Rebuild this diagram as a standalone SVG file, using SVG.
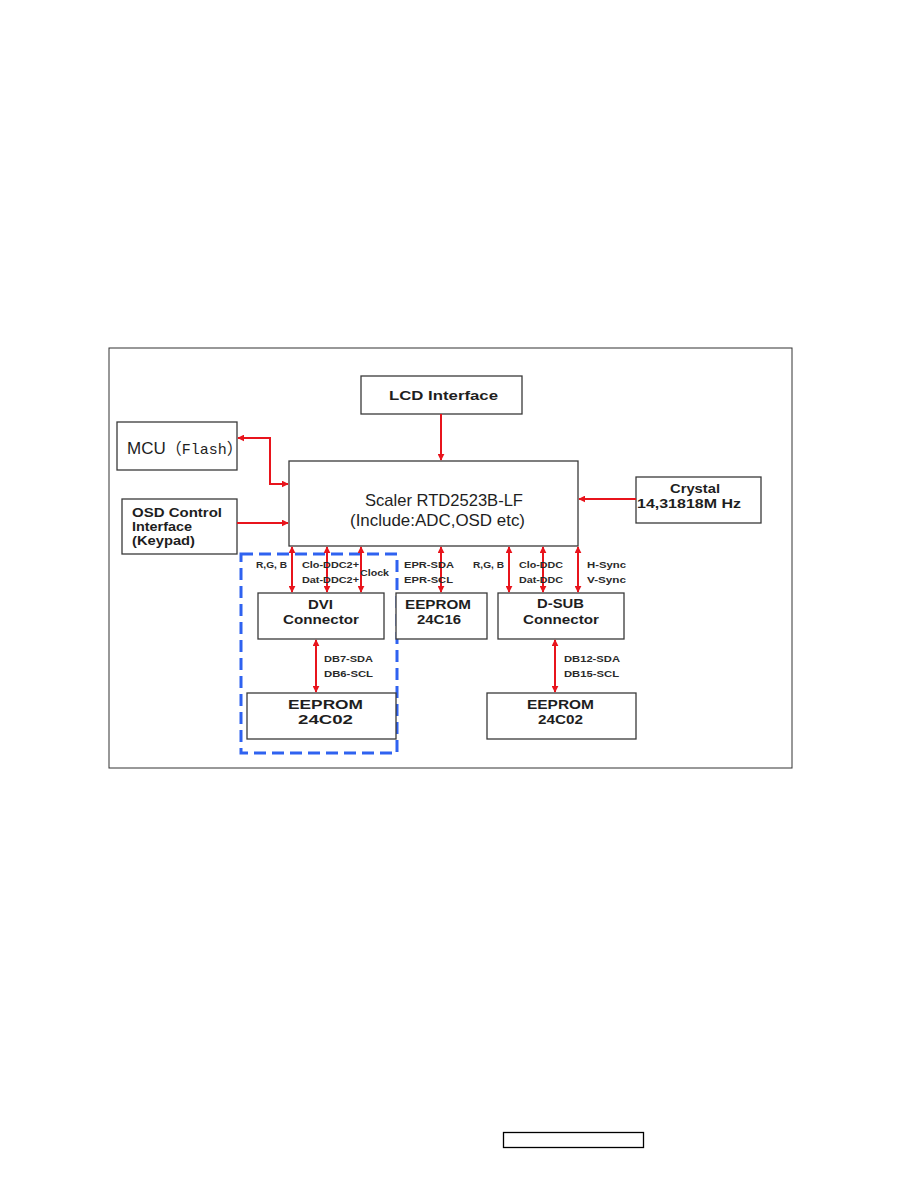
<svg xmlns="http://www.w3.org/2000/svg" width="918" height="1188" viewBox="0 0 918 1188">
<defs>
<marker id="ah" viewBox="0 0 10 10" refX="9" refY="5" markerWidth="7" markerHeight="7" markerUnits="userSpaceOnUse" orient="auto-start-reverse">
<path d="M0,0 L10,5 L0,10 z" fill="#e8141c"/>
</marker>
<style>
.box{fill:#fff;stroke:#3a3a3a;stroke-width:1.3}
.t{font-family:"Liberation Sans",Arial,sans-serif;font-weight:bold;fill:#1e1e1e;font-size:13px}
.s{font-family:"Liberation Sans",Arial,sans-serif;font-weight:bold;fill:#2a2a2a;font-size:9.5px}
.d{stroke:#e8141c;stroke-width:2;fill:none;marker-start:url(#ah);marker-end:url(#ah)}
.e{stroke:#e8141c;stroke-width:2;fill:none;marker-end:url(#ah)}
</style>
</defs>
<rect width="918" height="1188" fill="#fff"/>
<rect x="109" y="348" width="683" height="420" fill="#fff" stroke="#333" stroke-width="1"/>

<g id="dvi-group">
<rect x="241" y="554" width="156" height="199" fill="none" stroke="#2f62f0" stroke-width="3" stroke-dasharray="12,6"/>
</g>

<g id="lcd">
<rect class="box" x="361" y="376" width="161" height="38"/>
<text class="t" x="389" y="400" font-size="12" textLength="109" lengthAdjust="spacingAndGlyphs">LCD Interface</text>
</g>
<g id="mcu">
<rect class="box" x="117" y="422" width="120" height="48"/>
<text x="127" y="454" font-family="Liberation Sans,Arial,sans-serif" font-size="17" fill="#1e1e1e">MCU<tspan font-family="Noto Sans CJK SC,sans-serif" font-size="16">（</tspan><tspan font-family="Liberation Mono,Liberation Serif,serif" font-size="15">Flash</tspan><tspan font-family="Noto Sans CJK SC,sans-serif" font-size="16">）</tspan></text>
</g>
<g id="osd">
<rect class="box" x="122" y="499" width="115" height="55"/>
<text class="t" x="132" y="517" font-size="12.5" textLength="90" lengthAdjust="spacingAndGlyphs">OSD Control</text>
<text class="t" x="132" y="531" font-size="12.5" textLength="60" lengthAdjust="spacingAndGlyphs">Interface</text>
<text class="t" x="132" y="545" font-size="12.5" textLength="63" lengthAdjust="spacingAndGlyphs">(Keypad)</text>
</g>
<g id="scaler">
<rect class="box" x="289" y="461" width="289" height="85"/>
<text x="365" y="506" font-family="Liberation Sans,Arial,sans-serif" font-size="16.5" fill="#1e1e1e" textLength="158" lengthAdjust="spacingAndGlyphs">Scaler RTD2523B-LF</text>
<text x="350" y="526" font-family="Liberation Sans,Arial,sans-serif" font-size="16.5" fill="#1e1e1e" textLength="175" lengthAdjust="spacingAndGlyphs">(Include:ADC,OSD etc)</text>
</g>
<g id="crystal">
<rect class="box" x="636" y="477" width="125" height="46"/>
<text class="t" x="670" y="493" font-size="12.5" textLength="50" lengthAdjust="spacingAndGlyphs">Crystal</text>
<text class="t" x="637" y="508" font-size="12.5" textLength="104" lengthAdjust="spacingAndGlyphs">14,31818M Hz</text>
</g>
<g id="dvi">
<rect class="box" x="258" y="593" width="126" height="46"/>
<text class="t" x="308" y="609" textLength="25" lengthAdjust="spacingAndGlyphs">DVI</text>
<text class="t" x="283" y="624" textLength="76" lengthAdjust="spacingAndGlyphs">Connector</text>
</g>
<g id="eeprom16">
<rect class="box" x="396" y="593" width="91" height="46"/>
<text class="t" x="405" y="609" textLength="66" lengthAdjust="spacingAndGlyphs">EEPROM</text>
<text class="t" x="417" y="624" textLength="44" lengthAdjust="spacingAndGlyphs">24C16</text>
</g>
<g id="dsub">
<rect class="box" x="498" y="593" width="126" height="46"/>
<text class="t" x="537" y="608" textLength="47" lengthAdjust="spacingAndGlyphs">D-SUB</text>
<text class="t" x="523" y="624" textLength="76" lengthAdjust="spacingAndGlyphs">Connector</text>
</g>
<g id="eeprom-dvi">
<rect class="box" x="247" y="693" width="149" height="46"/>
<text class="t" x="288" y="709" font-size="13.5" textLength="75" lengthAdjust="spacingAndGlyphs">EEPROM</text>
<text class="t" x="298" y="724" font-size="13.5" textLength="55" lengthAdjust="spacingAndGlyphs">24C02</text>
</g>
<g id="eeprom-dsub">
<rect class="box" x="487" y="693" width="149" height="46"/>
<text class="t" x="527" y="709" textLength="67" lengthAdjust="spacingAndGlyphs">EEPROM</text>
<text class="t" x="538" y="724" textLength="45" lengthAdjust="spacingAndGlyphs">24C02</text>
</g>

<g id="connectors">
<line class="e" x1="441" y1="414" x2="441" y2="460"/>
<polyline class="d" points="238,438 270,438 270,484 288,484"/>
<line class="e" x1="237" y1="523" x2="288" y2="523"/>
<line class="e" x1="636" y1="499" x2="579" y2="499"/>
<line class="d" x1="292" y1="547" x2="292" y2="592"/>
<line class="d" x1="327" y1="547" x2="327" y2="592"/>
<line class="d" x1="361" y1="547" x2="361" y2="592"/>
<line class="d" x1="441" y1="547" x2="441" y2="592"/>
<line class="d" x1="509" y1="547" x2="509" y2="592"/>
<line class="d" x1="543" y1="547" x2="543" y2="592"/>
<line class="d" x1="578" y1="547" x2="578" y2="592"/>
<line class="d" x1="316" y1="640" x2="316" y2="692"/>
<line class="d" x1="555" y1="640" x2="555" y2="692"/>
</g>

<g id="labels">
<text class="s" x="256" y="568" textLength="31" lengthAdjust="spacingAndGlyphs">R,G, B</text>
<text class="s" x="302" y="568" textLength="57" lengthAdjust="spacingAndGlyphs">Clo-DDC2+</text>
<text class="s" x="302" y="583" textLength="57" lengthAdjust="spacingAndGlyphs">Dat-DDC2+</text>
<text class="s" x="360" y="576" textLength="29" lengthAdjust="spacingAndGlyphs">Clock</text>
<text class="s" x="404" y="568" textLength="50" lengthAdjust="spacingAndGlyphs">EPR-SDA</text>
<text class="s" x="404" y="583" textLength="49" lengthAdjust="spacingAndGlyphs">EPR-SCL</text>
<text class="s" x="473" y="568" textLength="31" lengthAdjust="spacingAndGlyphs">R,G, B</text>
<text class="s" x="519" y="568" textLength="44" lengthAdjust="spacingAndGlyphs">Clo-DDC</text>
<text class="s" x="519" y="583" textLength="44" lengthAdjust="spacingAndGlyphs">Dat-DDC</text>
<text class="s" x="587" y="568" textLength="39" lengthAdjust="spacingAndGlyphs">H-Sync</text>
<text class="s" x="587" y="583" textLength="39" lengthAdjust="spacingAndGlyphs">V-Sync</text>
<text class="s" x="324" y="662" textLength="49" lengthAdjust="spacingAndGlyphs">DB7-SDA</text>
<text class="s" x="324" y="677" textLength="49" lengthAdjust="spacingAndGlyphs">DB6-SCL</text>
<text class="s" x="564" y="662" textLength="56" lengthAdjust="spacingAndGlyphs">DB12-SDA</text>
<text class="s" x="564" y="677" textLength="55" lengthAdjust="spacingAndGlyphs">DB15-SCL</text>
</g>

<rect x="503.5" y="1132.5" width="140" height="15" fill="none" stroke="#000" stroke-width="1.3"/>
</svg>
